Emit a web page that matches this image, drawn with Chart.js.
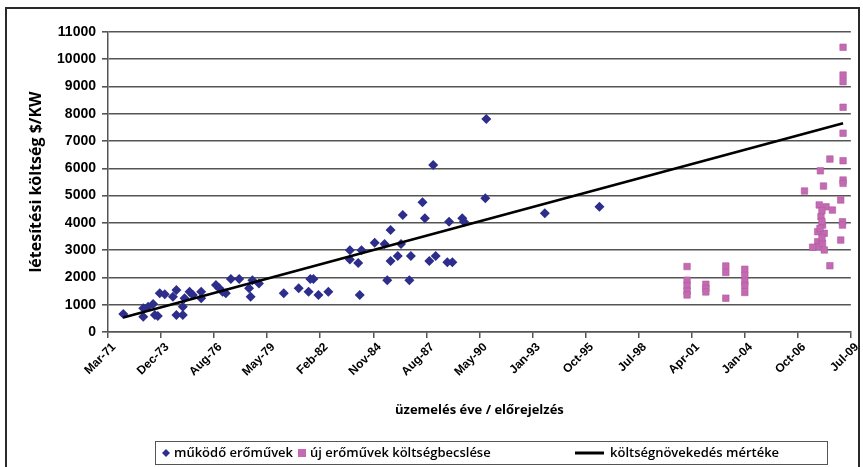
<!DOCTYPE html>
<html>
<head>
<meta charset="utf-8">
<script src="https://cdn.jsdelivr.net/npm/chart.js@4/dist/chart.umd.min.js"></script>
<style>
  html, body { margin: 0; padding: 0; background: #fff; }
  #wrap { width: 863px; height: 467px; }
</style>
</head>
<body>
<div id="wrap"><canvas id="chart" width="863" height="467"></canvas></div>
<script>
// x tick labels (Excel date axis, 1000-day step)
const tickLabels = ['Mar-71', 'Dec-73', 'Aug-76', 'May-79', 'Feb-82', 'Nov-84', 'Aug-87',
  'May-90', 'Jan-93', 'Oct-95', 'Jul-98', 'Apr-01', 'Jan-04', 'Oct-06', 'Jul-09'];
const xStart = 1971.16;
const tickStep = 1000 / 365.25;

// működő erőművek (year, $/KW)
const operatingX = [1971.95, 1972.98, 1972.98, 1973.23, 1973.49, 1973.58, 1973.73, 1973.83, 1974.09,
  1974.51, 1974.69, 1974.69, 1975.02, 1975.02, 1975.11, 1975.37, 1975.54, 1975.97, 1975.97, 1976.73,
  1976.90, 1977.07, 1977.24, 1977.50, 1977.93, 1978.61, 1978.95, 1978.44, 1978.52, 1980.23, 1981.00,
  1981.60, 1981.76, 1981.51, 1982.02, 1982.53, 1984.15, 1984.07, 1983.64, 1983.64, 1984.24, 1984.92,
  1985.43, 1985.74, 1986.37, 1986.28, 1986.11, 1985.74, 1985.57, 1986.79, 1986.71, 1987.39, 1987.51,
  1987.74, 1988.07, 1987.94, 1988.76, 1988.67, 1988.93, 1989.44, 1989.53, 1990.63, 1990.68, 1993.70,
  1996.52];
const operatingY = [660, 870, 560, 930, 1030, 620, 590, 1420, 1380,
  1290, 1540, 620, 620, 930, 1240, 1480, 1360, 1480, 1240, 1720,
  1600, 1480, 1420, 1940, 1940, 1900, 1780, 1600, 1290, 1420, 1600,
  1940, 1940, 1480, 1360, 1480, 1360, 2530, 3000, 2660, 3000, 3270,
  3230, 3740, 4290, 3230, 2790, 2600, 1900, 2790, 1900, 4760, 4170,
  2600, 2790, 6120, 4040, 2560, 2560, 4170, 4040, 4900, 7810, 4350,
  4590];

// új erőművek költségbecslése (year, $/KW)
const newX = [2001.04, 2001.04, 2001.04, 2001.04, 2001.04,
  2002.01, 2002.01, 2002.01,
  2003.04, 2003.04, 2003.04,
  2004.02, 2004.02, 2004.02, 2004.02, 2004.02,
  2009.09, 2009.09, 2009.09, 2009.09, 2009.09, 2009.09, 2009.09, 2009.09,
  2008.41, 2007.92, 2008.08, 2007.10, 2008.97, 2007.86, 2008.21, 2008.54, 2007.95,
  2009.06, 2009.06, 2008.03, 2007.78, 2008.12, 2008.97, 2007.78, 2007.52, 2007.86,
  2008.12, 2008.03, 2008.41, 2008.00, 2008.00, 2008.00, 2007.90];
const newY = [2400, 1900, 1700, 1500, 1360,
  1750, 1600, 1470,
  2420, 2180, 1240,
  2300, 2080, 1860, 1700, 1450,
  10440, 9420, 9180, 8240, 7290, 6280, 5570, 5450,
  6340, 5910, 5350, 5170, 4840, 4660, 4590, 4470, 4230,
  4040, 3920, 3920, 3680, 3620, 3370, 3310, 3110, 3130,
  3010, 3250, 2430, 4450, 4050, 3450, 3800];

// költségnövekedés mértéke (trend line end points)
const trendX = [1971.95, 2009.09];
const trendY = [530, 7650];

const toPoints = (xs, ys) => xs.map((x, i) => ({ x: x, y: ys[i] }));

// outer frame and the boxed legend row under the axis title
const frameAndLegend = {
  id: 'frameAndLegend',
  afterDraw(chart) {
    const ctx = chart.ctx;
    const ds = chart.data.datasets;
    const cy = 453;
    ctx.save();
    ctx.strokeStyle = '#2a2a2a';
    ctx.lineWidth = 2;
    ctx.strokeRect(6, 8, 853, 470);

    ctx.strokeStyle = '#555';
    ctx.lineWidth = 1;
    ctx.strokeRect(155.5, 441.5, 672, 23);

    ctx.fillStyle = ds[0].backgroundColor;
    Chart.helpers.drawPoint(ctx, { pointStyle: 'rectRot', radius: 4, borderWidth: 0 }, 166, cy);
    ctx.fillStyle = ds[1].backgroundColor;
    ctx.fillRect(298, cy - 4, 8, 8);
    ctx.strokeStyle = '#000';
    ctx.lineWidth = 3;
    ctx.beginPath();
    ctx.moveTo(575, cy);
    ctx.lineTo(604, cy);
    ctx.stroke();

    ctx.font = '600 13px "Open Sans"';
    ctx.fillStyle = '#000';
    ctx.textBaseline = 'middle';
    ctx.textAlign = 'left';
    ctx.fillText(ds[0].label, 174, cy);
    ctx.fillText(ds[1].label, 310, cy);
    ctx.fillText(ds[2].label, 610, cy);
    ctx.restore();
  }
};

new Chart(document.getElementById('chart'), {
  type: 'scatter',
  data: {
    datasets: [
      {
        label: 'működő erőművek',
        data: toPoints(operatingX, operatingY),
        pointStyle: 'rectRot',
        pointRadius: 5,
        pointHoverRadius: 5,
        backgroundColor: '#2d2d8c',
        borderColor: '#2d2d8c',
        borderWidth: 0,
        order: 2
      },
      {
        label: 'új erőművek költségbecslése',
        data: toPoints(newX, newY),
        pointStyle: 'rect',
        pointRadius: 4.6,
        pointHoverRadius: 4.6,
        backgroundColor: '#c46ab3',
        borderColor: '#b05a9f',
        borderWidth: 0.6,
        order: 1
      },
      {
        type: 'line',
        label: 'költségnövekedés mértéke',
        data: toPoints(trendX, trendY),
        borderColor: '#000',
        borderWidth: 2.6,
        pointRadius: 0,
        fill: false,
        order: 0
      }
    ]
  },
  options: {
    responsive: false,
    devicePixelRatio: 1,
    animation: false,
    layout: { padding: { top: 32, right: 5, left: 0, bottom: 0 } },
    plugins: {
      legend: { display: false },
      tooltip: { enabled: false }
    },
    scales: {
      x: {
        type: 'linear',
        min: xStart,
        max: xStart + tickStep * (tickLabels.length - 1),
        afterBuildTicks: (scale) => {
          scale.ticks = tickLabels.map((_, i) => ({ value: xStart + i * tickStep }));
        },
        afterFit: (scale) => { scale.height = 135; },
        grid: {
          drawOnChartArea: false,
          drawTicks: true,
          tickLength: 6,
          color: '#555',
          lineWidth: 1.5
        },
        border: { color: '#555', width: 1.5 },
        ticks: {
          autoSkip: false,
          minRotation: 45,
          maxRotation: 45,
          padding: 2,
          labelOffset: 6,
          color: '#000',
          font: { family: '"Liberation Sans"', size: 12, weight: 'bold' },
          callback: (v, i) => tickLabels[i]
        },
        title: {
          display: true,
          text: 'üzemelés éve / előrejelzés',
          color: '#000',
          font: { family: '"Open Sans"', size: 13, weight: 'bold' },
          padding: { top: 0, bottom: 49 }
        }
      },
      y: {
        min: 0,
        max: 11000,
        afterFit: (scale) => { scale.width = 108; },
        grid: {
          color: '#555',
          lineWidth: 1.6,
          tickLength: 6
        },
        border: { color: '#555', width: 1.5 },
        ticks: {
          stepSize: 1000,
          padding: 6,
          color: '#000',
          font: { family: '"Liberation Sans"', size: 14, weight: 'bold' },
          callback: (v) => String(v)
        },
        title: {
          display: true,
          text: 'létesítési költség $/KW',
          color: '#000',
          font: { family: '"Open Sans"', size: 16, weight: 'bold' },
          padding: { top: 27, bottom: 0 }
        }
      }
    }
  },
  plugins: [frameAndLegend]
});
</script>
</body>
</html>
